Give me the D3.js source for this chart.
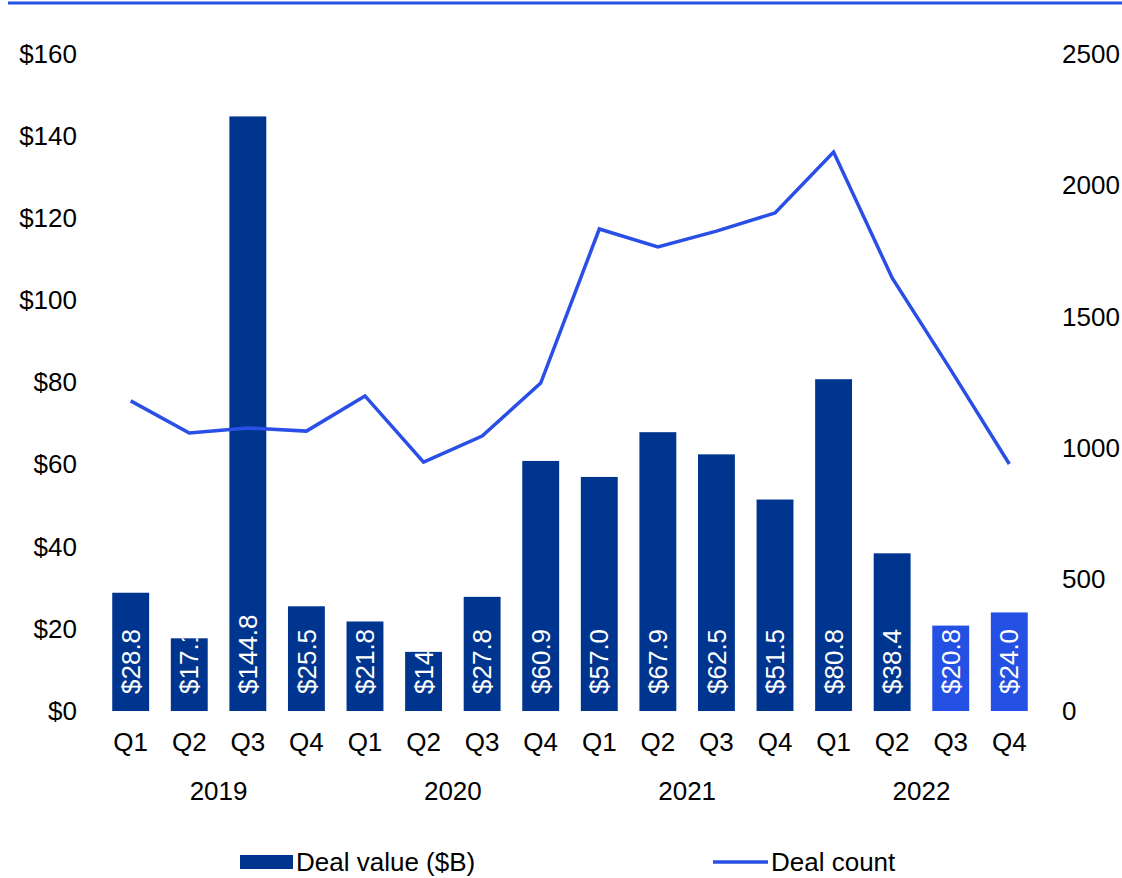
<!DOCTYPE html>
<html>
<head>
<meta charset="utf-8">
<script src="https://cdn.jsdelivr.net/npm/d3@7"></script>
<style>
  body { margin: 0; background: #fff; }
  text { font-family: "Liberation Sans", Arial, sans-serif; }
</style>
</head>
<body>
<div id="chart"></div>
<script>
// chart data
const quarters = ["Q1", "Q2", "Q3", "Q4", "Q1", "Q2", "Q3", "Q4", "Q1", "Q2", "Q3", "Q4", "Q1", "Q2", "Q3", "Q4"];
const years = ["2019", "2020", "2021", "2022"];
const dealValue = [28.8, 17.7, 144.8, 25.5, 21.8, 14.4, 27.8, 60.9, 57.0, 67.9, 62.5, 51.5, 80.8, 38.4, 20.8, 24.0];
const valueLabels = ["$28.8", "$17.1", "$144.8", "$25.5", "$21.8", "$14.4", "$27.8", "$60.9", "$57.0", "$67.9", "$62.5", "$51.5", "$80.8", "$38.4", "$20.8", "$24.0"];
const dealCount = [1180, 1058, 1077, 1065, 1199, 947, 1046, 1248, 1834, 1766, 1826, 1895, 2127, 1648, 1298, 940];
const leftTicks = [0, 20, 40, 60, 80, 100, 120, 140, 160];
const rightTicks = [0, 500, 1000, 1500, 2000, 2500];

const width = 1122, height = 878;
const fontSize = 26;
const darkBlue = "#00358F", lightBlue = "#2450E3", lineBlue = "#2A4FE6";

const svg = d3.select("#chart").append("svg")
  .attr("width", width)
  .attr("height", height);

// top rule
svg.append("line")
  .attr("x1", 8).attr("x2", width)
  .attr("y1", 3).attr("y2", 3)
  .attr("stroke", lightBlue)
  .attr("stroke-width", 3);

// scales
let keys = quarters.map((q, i) => i);
let x = d3.scaleBand().domain(keys).range([101.4, 1038.6]).paddingInner(0.37).paddingOuter(0.185);
let yLeft = d3.scaleLinear().domain([0, 160]).range([711, 54]);
let yRight = d3.scaleLinear().domain([0, 2500]).range([711, 54]);

// left axis
let leftAxis = d3.axisLeft(yLeft).tickValues(leftTicks).tickFormat(d => "$" + d).tickSize(0).tickPadding(0);
svg.append("g")
  .attr("transform", "translate(77,0)")
  .call(leftAxis)
  .call(g => g.select(".domain").remove())
  .selectAll("text")
  .attr("font-size", fontSize)
  .attr("fill", "#000");

// right axis
let rightAxis = d3.axisRight(yRight).tickValues(rightTicks).tickFormat(d3.format("d")).tickSize(0).tickPadding(0);
svg.append("g")
  .attr("transform", "translate(1062,0)")
  .call(rightAxis)
  .call(g => g.select(".domain").remove())
  .selectAll("text")
  .attr("font-size", fontSize)
  .attr("fill", "#000");

// clip paths so labels stay inside their bars
let defs = svg.append("defs");
defs.selectAll("clipPath")
  .data(dealValue)
  .enter()
  .append("clipPath")
  .attr("id", (d, i) => "clip" + i)
  .append("rect")
  .attr("x", (d, i) => x(i))
  .attr("y", d => yLeft(d))
  .attr("width", x.bandwidth())
  .attr("height", d => yLeft(0) - yLeft(d));

// bars
svg.append("g").selectAll("rect")
  .data(dealValue)
  .enter()
  .append("rect")
  .attr("x", (d, i) => x(i))
  .attr("y", d => yLeft(d))
  .attr("width", x.bandwidth())
  .attr("height", d => yLeft(0) - yLeft(d))
  .attr("fill", (d, i) => i >= 14 ? lightBlue : darkBlue);

// bar labels (rotated, clipped)
svg.append("g").selectAll("g")
  .data(dealValue)
  .enter()
  .append("g")
  .attr("clip-path", (d, i) => `url(#clip${i})`)
  .append("text")
  .attr("transform", (d, i) => `translate(${x(i) + x.bandwidth() / 2}, ${yLeft(0) - 17}) rotate(-90)`)
  .attr("dy", "0.35em")
  .attr("text-anchor", "start")
  .attr("font-size", fontSize)
  .attr("fill", "#fff")
  .text((d, i) => valueLabels[i]);

// deal count line
let line = d3.line()
  .x((d, i) => x(i) + x.bandwidth() / 2)
  .y(d => yRight(d));

svg.append("path")
  .datum(dealCount)
  .attr("d", line)
  .attr("fill", "none")
  .attr("stroke", lineBlue)
  .attr("stroke-width", 3.5)
  .attr("stroke-linejoin", "miter");

// quarter labels
svg.append("g").selectAll("text")
  .data(quarters)
  .enter()
  .append("text")
  .attr("x", (d, i) => x(i) + x.bandwidth() / 2)
  .attr("y", 742)
  .attr("dy", "0.35em")
  .attr("text-anchor", "middle")
  .attr("font-size", fontSize)
  .text(d => d);

// year labels, centred on each group of four quarters
svg.append("g").selectAll("text")
  .data(years)
  .enter()
  .append("text")
  .attr("x", (d, i) => (x(i * 4) + x(i * 4 + 3) + x.bandwidth()) / 2)
  .attr("y", 791)
  .attr("dy", "0.35em")
  .attr("text-anchor", "middle")
  .attr("font-size", fontSize)
  .text(d => d);

// legend
let legend = svg.append("g").attr("class", "legend");
legend.append("rect")
  .attr("x", 240).attr("y", 855)
  .attr("width", 53).attr("height", 14)
  .attr("fill", darkBlue);
legend.append("text")
  .attr("x", 296).attr("y", 862)
  .attr("dy", "0.35em")
  .attr("font-size", fontSize)
  .text("Deal value ($B)");
legend.append("line")
  .attr("x1", 713).attr("x2", 768)
  .attr("y1", 862).attr("y2", 862)
  .attr("stroke", lineBlue)
  .attr("stroke-width", 3.5);
legend.append("text")
  .attr("x", 771).attr("y", 862)
  .attr("dy", "0.35em")
  .attr("font-size", fontSize)
  .text("Deal count");
</script>
</body>
</html>
